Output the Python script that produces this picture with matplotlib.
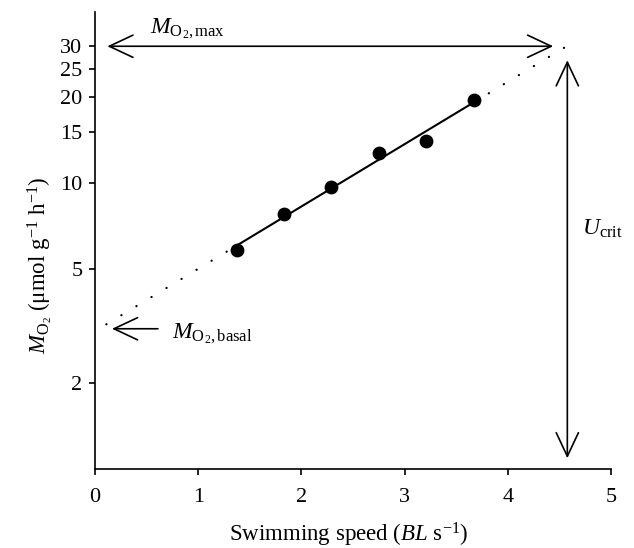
import numpy as np
import matplotlib
matplotlib.use("Agg")
import matplotlib.pyplot as plt

# Data
speed = [1.375, 1.83, 2.29, 2.75, 3.21, 3.67]          # BL s^-1
mo2 = [5.84, 7.8, 9.63, 12.75, 14.0, 19.5]              # umol g^-1 h^-1
yticks = [2, 5, 10, 15, 20, 25, 30]
xticks = [0, 1, 2, 3, 4, 5]
mo2_max = 30.0
mo2_basal = 3.09
u_crit = 4.577

plt.rcParams['font.family'] = ['Liberation Serif', 'DejaVu Serif']
plt.rcParams['mathtext.fontset'] = 'custom'
plt.rcParams['mathtext.rm'] = 'Liberation Serif'
plt.rcParams['mathtext.it'] = 'Liberation Serif:italic'

fig = plt.figure(figsize=(6.34, 5.48), dpi=100)
ax = fig.add_axes([0.1498, 0.1442, 0.9637 - 0.1498, 0.978 - 0.1442])
ax.set_yscale('log')
ax.set_xlim(0, 5)
ax.set_ylim(1.0, 39.5)

# Regression fit on log scale
coef = np.polyfit(speed, np.log10(mo2), 1)
def fit(x):
    return 10 ** np.polyval(coef, x)

xs = np.linspace(speed[0], speed[-1], 50)
ax.plot(xs, fit(xs), color='black', lw=1.5, zorder=3)
ax.scatter(speed, mo2, s=80, color='black', zorder=4)

# Dotted extrapolations
x_low = np.linspace(0.11, speed[0], 50)
x_high = np.linspace(speed[-1], u_crit - 0.01, 50)
for xx in (x_low, x_high):
    ax.plot(xx, fit(xx), color='black', lw=1.6, linestyle=(0, (0.1, 7.8)),
            dash_capstyle='round', zorder=2)

# Arrows
arrow_kw = dict(arrowstyle='<->,head_length=1.7,head_width=0.8', color='black', lw=1.2,
                shrinkA=0, shrinkB=0)
ax.annotate('', xy=(0.12, mo2_max), xytext=(4.44, mo2_max),
            arrowprops=arrow_kw)
ax.annotate('', xy=(u_crit, 26.8), xytext=(u_crit, 1.09),
            arrowprops=arrow_kw)
ax.annotate('', xy=(0.165, mo2_basal), xytext=(0.61, mo2_basal),
            arrowprops=dict(arrowstyle='->,head_length=1.7,head_width=0.8', color='black',
                            lw=1.2, shrinkA=0, shrinkB=0))

ax.text(0.53, 34.5, r'$M_{\mathrm{O_2,max}}$', fontsize=17, va='center', ha='left')
ax.text(0.75, mo2_basal * 0.96, r'$M_{\mathrm{O_2,basal}}$', fontsize=17, va='center', ha='left')
ax.text(4.72, 6.9, r'$U_{\mathrm{crit}}$', fontsize=17, va='center', ha='left')

# Axes styling
for s in ('top', 'right'):
    ax.spines[s].set_visible(False)
for s in ('left', 'bottom'):
    ax.spines[s].set_linewidth(1.2)
ax.set_yticks(yticks)
ax.set_yticklabels([str(t) for t in yticks])
ax.yaxis.set_minor_locator(matplotlib.ticker.NullLocator())
ax.set_xticks(xticks)
ax.set_xticklabels([str(t) for t in xticks])
ax.tick_params(axis='both', direction='out', length=4, width=1.2, labelsize=16)
ax.tick_params(axis='x', pad=10)
ax.tick_params(axis='y', pad=5)

ax.set_xlabel(r'Swimming speed ($BL$ s$^{-1}$)', fontsize=16.5)
ax.set_ylabel(r'$M_{\mathrm{O_2}}$ ($\mathrm{\mu}$mol g$^{-1}$ h$^{-1}$)', fontsize=16.5)
ax.xaxis.set_label_coords(0.491, -0.113)
ax.yaxis.set_label_coords(-0.08, 0.446)

fig.savefig('out.png', dpi=100)
